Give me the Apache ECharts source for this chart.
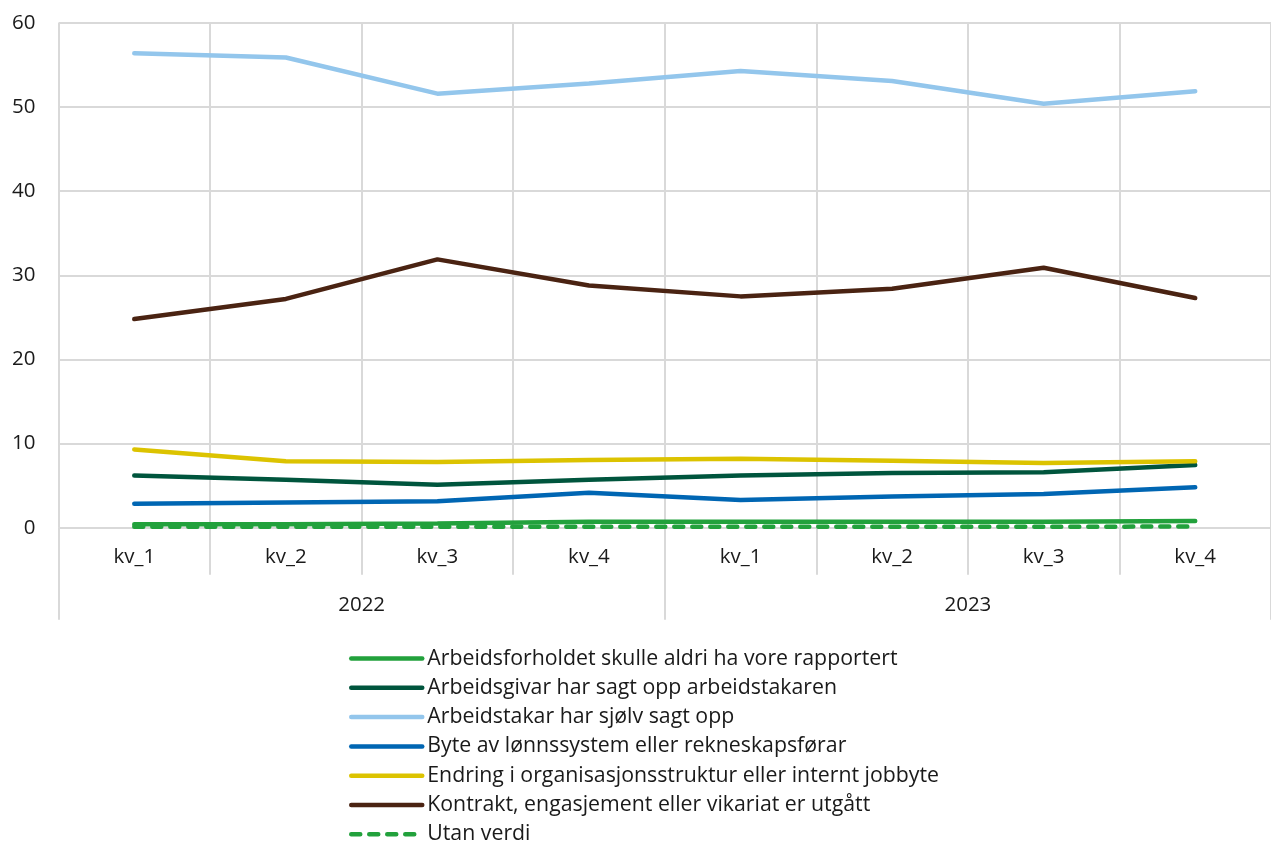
<!DOCTYPE html>
<html><head><meta charset="utf-8">
<script src="https://cdn.jsdelivr.net/npm/echarts@6/dist/echarts.min.js"></script>
<style>html,body{margin:0;padding:0;background:#fff}#c{width:1271px;height:842px}</style>
</head><body><div id="c"></div>
<script>
const quarters = ['kv_1','kv_2','kv_3','kv_4','kv_1','kv_2','kv_3','kv_4'];
const years = ['2022','2023'];
const yTicks = {min: 0, max: 60, interval: 10};

const seriesNames = [
  'Arbeidsforholdet skulle aldri ha vore rapportert',
  'Arbeidsgivar har sagt opp arbeidstakaren',
  'Arbeidstakar har sjølv sagt opp',
  'Byte av lønnssystem eller rekneskapsførar',
  'Endring i organisasjonsstruktur eller internt jobbyte',
  'Kontrakt, engasjement eller vikariat er utgått',
  'Utan verdi'
];
const aldriRapportert = [0.4, 0.4, 0.5, 0.7, 0.7, 0.7, 0.7, 0.8];
const sagtOppArbeidsgivar = [6.2, 5.7, 5.1, 5.7, 6.2, 6.5, 6.6, 7.45];
const sagtOppSjolv = [56.4, 55.9, 51.6, 52.8, 54.3, 53.1, 50.4, 51.9];
const byteLonn = [2.85, 3.0, 3.15, 4.15, 3.3, 3.7, 4.0, 4.8];
const endringOrg = [9.3, 7.9, 7.8, 8.05, 8.2, 7.95, 7.7, 7.9];
const kontraktUtgatt = [24.8, 27.2, 31.9, 28.8, 27.5, 28.4, 30.9, 27.3];
const utanVerdi = [0.1, 0.1, 0.1, 0.1, 0.1, 0.1, 0.1, 0.15];

const values = [aldriRapportert, sagtOppArbeidsgivar, sagtOppSjolv, byteLonn, endringOrg, kontraktUtgatt, utanVerdi];
const colors = ['#22a13c', '#00553d', '#93c6ec', '#0066b3', '#dcc300', '#4a2312', '#22a13c'];
const dashed = [false, false, false, false, false, false, true];

const FONT = '"Open Sans", "Noto Sans", sans-serif';
const GRIDC = '#d9d9d9';
const TXT = '#1a1a1a';

const chart = echarts.init(document.getElementById('c'), null, {renderer: 'canvas'});
chart.setOption({
  animation: false,
  textStyle: {fontFamily: FONT},
  grid: {left: 58.5, top: 23, right: -12.5, bottom: 314.3, containLabel: false},
  legend: {
    orient: 'vertical', left: 349, top: 648, padding: 0, height: 400,
    itemWidth: 71, itemHeight: 14, itemGap: 8.3,
    itemStyle: {opacity: 0},
    lineStyle: {width: 4.5},
    textStyle: {fontSize: 21.3, lineHeight: 20, color: TXT, fontFamily: FONT},
    data: seriesNames
  },
  xAxis: [
    {
      type: 'category', data: quarters, position: 'bottom', boundaryGap: true,
      axisLine: {show: false},
      axisTick: {show: true, interval: 0, length: 47, lineStyle: {color: GRIDC, width: 2}},
      splitLine: {show: true, interval: 0, lineStyle: {color: GRIDC, width: 2}},
      axisLabel: {interval: 0, margin: 19, fontSize: 20.5, color: TXT, fontFamily: FONT}
    },
    {
      type: 'category', data: years, position: 'bottom', boundaryGap: true,
      axisLine: {show: false},
      axisTick: {show: true, interval: 0, length: 92, lineStyle: {color: GRIDC, width: 2}},
      splitLine: {show: false},
      axisLabel: {interval: 0, margin: 67, fontSize: 20.5, color: TXT, fontFamily: FONT}
    }
  ],
  yAxis: {
    type: 'value', min: yTicks.min, max: yTicks.max, interval: yTicks.interval,
    axisLine: {show: false}, axisTick: {show: false},
    splitLine: {show: true, lineStyle: {color: GRIDC, width: 2}},
    axisLabel: {margin: 23, fontSize: 20.5, color: TXT, fontFamily: FONT}
  },
  series: seriesNames.map((n, i) => ({
    name: n, type: 'line', xAxisIndex: 0, data: values[i],
    symbol: 'none', showSymbol: false, smooth: false,
    color: colors[i],
    lineStyle: {color: colors[i], width: 4.5, type: dashed[i] ? [9, 9] : 'solid', cap: 'round'},
    z: i === 6 ? 3 : 2
  }))
});
</script>
</body></html>
